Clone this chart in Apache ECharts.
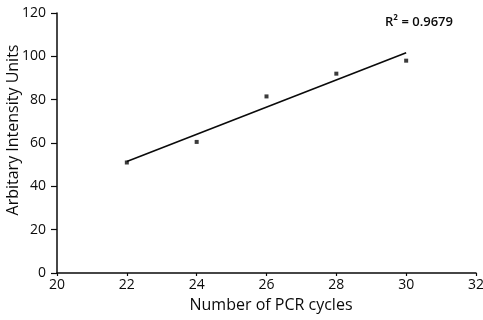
<!DOCTYPE html>
<html>
<head>
<meta charset="utf-8">
<script src="https://cdn.jsdelivr.net/npm/echarts@6/dist/echarts.min.js"></script>
<style>
  html, body { margin: 0; padding: 0; background: #fff; }
  #chart { width: 483px; height: 320px; }
</style>
</head>
<body>
<div id="chart"></div>
<script>
// Band intensity measured at each PCR cycle count
const cycles = [22, 24, 26, 28, 30];
const intensity = [51, 60.5, 81.5, 92, 98];
const xTicks = [20, 22, 24, 26, 28, 30, 32];
const yTicks = [0, 20, 40, 60, 80, 100, 120];
const r2Label = 'R² = 0.9679';

// Least-squares linear fit through the measured points
function linearFit(xs, ys) {
  const n = xs.length;
  const mx = xs.reduce((a, b) => a + b, 0) / n;
  const my = ys.reduce((a, b) => a + b, 0) / n;
  let sxy = 0, sxx = 0;
  for (let i = 0; i < n; i++) {
    sxy += (xs[i] - mx) * (ys[i] - my);
    sxx += (xs[i] - mx) * (xs[i] - mx);
  }
  const slope = sxy / sxx;
  return { slope, intercept: my - slope * mx };
}
const fit = linearFit(cycles, intensity);
const x0 = cycles[0], x1 = cycles[cycles.length - 1];
const trend = [[x0, fit.intercept + fit.slope * x0], [x1, fit.intercept + fit.slope * x1]];

const font = '"Open Sans", "DejaVu Sans", sans-serif';
const ink = '#0a0a0a';

const chart = echarts.init(document.getElementById('chart'), null, { renderer: 'canvas' });
chart.setOption({
  animation: false,
  backgroundColor: '#fff',
  grid: { left: 57, right: 7, top: 13, bottom: 47, containLabel: false, outerBoundsMode: 'none' },
  xAxis: {
    type: 'value',
    min: xTicks[0], max: xTicks[xTicks.length - 1], interval: 2,
    name: 'Number of PCR cycles',
    nameLocation: 'middle', nameGap: 24, nameMoveOverlap: false,
    nameTextStyle: { fontFamily: font, fontSize: 16, color: ink, padding: [0, 0, 0, 9] },
    axisLine: { lineStyle: { color: ink, width: 1.5 } },
    axisTick: { show: true, length: 3, lineStyle: { color: ink, width: 1.2 } },
    axisLabel: { fontFamily: font, fontSize: 14, color: ink, margin: 5 },
    splitLine: { show: false }
  },
  yAxis: {
    type: 'value',
    min: yTicks[0], max: yTicks[yTicks.length - 1], interval: 20,
    name: 'Arbitary Intensity Units',
    nameLocation: 'middle', nameGap: 36, nameMoveOverlap: false,
    nameTextStyle: { fontFamily: font, fontSize: 16, color: ink, padding: [0, 0, 0, 26] },
    axisLine: { show: true, lineStyle: { color: ink, width: 1.5 } },
    axisTick: { show: true, length: 6, lineStyle: { color: ink, width: 1.2 } },
    axisLabel: { fontFamily: font, fontSize: 14, color: ink, margin: 11 },
    splitLine: { show: false }
  },
  series: [
    {
      type: 'line',
      data: trend,
      symbol: 'none',
      lineStyle: { color: ink, width: 1.6 },
      silent: true,
      z: 2
    },
    {
      type: 'scatter',
      data: cycles.map((c, i) => [c, intensity[i]]),
      symbol: 'rect',
      symbolSize: 4,
      itemStyle: { color: ink },
      z: 3
    }
  ],
  graphic: [{
    type: 'text',
    left: 385, top: 16,
    style: { text: r2Label, font: '600 13px ' + font, fill: ink }
  }]
});
</script>
</body>
</html>
